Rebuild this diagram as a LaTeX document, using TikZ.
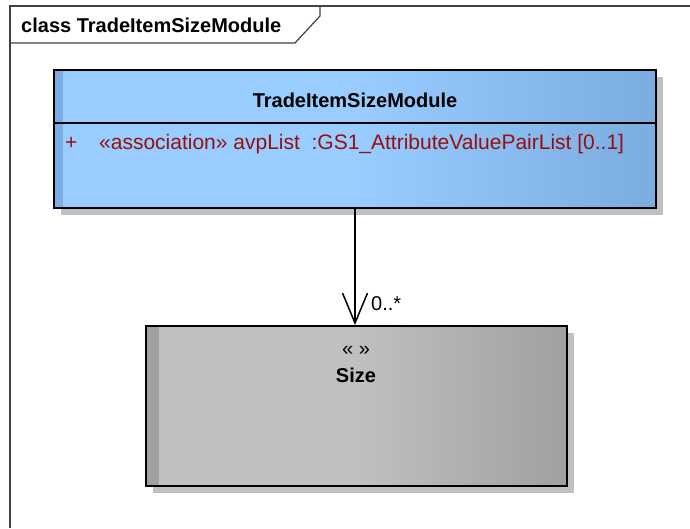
\documentclass[tikz,border=0pt]{standalone}
\usepackage{fontspec}
\setmainfont{Liberation Sans}
\usepackage{tikz}
\usetikzlibrary{positioning}
\usetikzlibrary{shadows}
\usetikzlibrary{arrows.meta}
\usepackage{xcolor}

\definecolor{classblue}{RGB}{153,204,255}
\definecolor{classbluedark}{RGB}{122,172,225}
\definecolor{stripblue}{RGB}{124,174,228}
\definecolor{classgray}{RGB}{192,192,192}
\definecolor{classgraydark}{RGB}{160,160,160}
\definecolor{stripgray}{RGB}{160,160,160}
\definecolor{shadowgray}{RGB}{192,192,192}
\definecolor{attrred}{RGB}{150,16,16}
\definecolor{framegray}{RGB}{64,64,64}

\pgfdeclarehorizontalshading{bluefade}{100bp}{color(0bp)=(classblue); color(50bp)=(classblue); color(75bp)=(classbluedark); color(100bp)=(classbluedark)}
\pgfdeclarehorizontalshading{grayfade}{100bp}{color(0bp)=(classgray); color(50bp)=(classgray); color(75bp)=(classgraydark); color(100bp)=(classgraydark)}

\begin{document}
\begin{tikzpicture}[
    x=1pt, y=-1pt,
    every node/.style={inner sep=0pt, font=\fontsize{20}{24}\selectfont},
    classbox/.style={rectangle, draw, line width=2pt, drop shadow={shadow xshift=7pt, shadow yshift=-7pt, fill=shadowgray, opacity=1}},
    blueclass/.style={classbox, shade, shading=bluefade, path picture={\fill[stripblue] (path picture bounding box.north west) rectangle ([xshift=9pt]path picture bounding box.south west);}},
    grayclass/.style={classbox, shade, shading=grayfade, path picture={\fill[stripgray] (path picture bounding box.north west) rectangle ([xshift=13pt]path picture bounding box.south west);}},
    classname/.style={anchor=base, font=\fontsize{20}{24}\selectfont\bfseries},
    attr/.style={anchor=base west, text=attrred, font=\fontsize{21}{24}\selectfont},
    frameline/.style={draw=framegray, line width=1.2pt},
    assoc/.style={-{Straight Barb[length=30pt, width=25pt]}, line width=1.5pt}
]
    \useasboundingbox (0,0) rectangle (690,528);

    % Diagram frame
    \draw[frameline] (10,528) -- (10,6) -- (690,6);
    \draw[frameline] (10,43) -- (295,43) -- (320,16) -- (320,6);
    \node[anchor=base west, font=\fontsize{20}{24}\selectfont\bfseries] (frametitle) at (21,32) {class TradeItemSizeModule};

    % The two classes
    \node[blueclass, minimum width=602pt, minimum height=138pt] (tism) at (355,139) {};
    \node[grayclass, minimum width=421pt, minimum height=160pt] (size) at (356.5,406) {};

    % Class TradeItemSizeModule
    \node[classname] (tismname) at (355,107) {TradeItemSizeModule};
    \draw[line width=2pt] ([yshift=-54pt]tism.north west) -- ([yshift=-54pt]tism.north east);
    \node[attr] (plus) at (65,149) {+};
    \node[attr] (avplist) at (99,149) {«association» avpList~~:GS1\_AttributeValuePairList [0..1]};

    % Class Size
    \node[anchor=base] (sizestereo) at (356,355) {« »};
    \node[classname] (sizename) at (356,382) {Size};

    % Association
    \draw[assoc] (tism.south) -- (tism.south |- size.north);
    \node[anchor=base west] (mult) at (371,310) {0..*};
\end{tikzpicture}
\end{document}
